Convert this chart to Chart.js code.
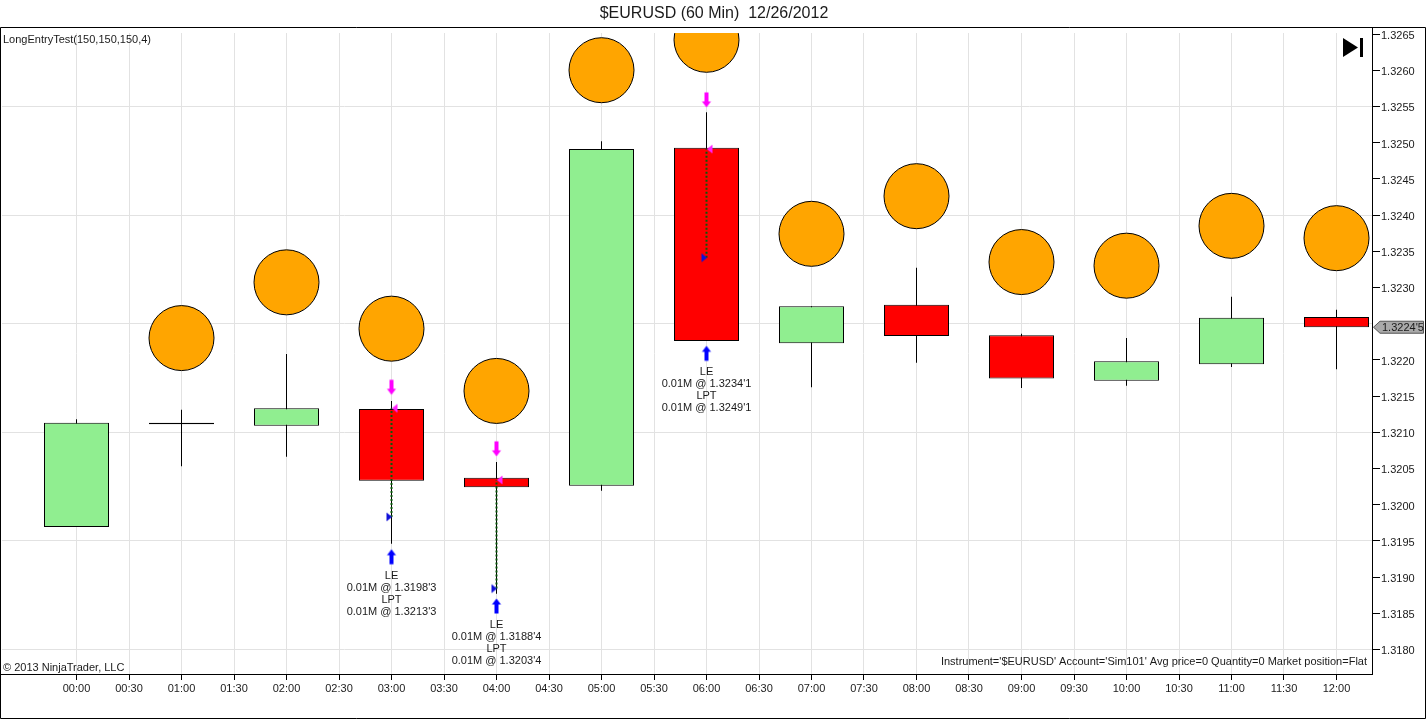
<!DOCTYPE html>
<html>
<head>
<meta charset="utf-8">
<title>$EURUSD (60 Min)</title>
<script src="https://cdn.jsdelivr.net/npm/chart.js@4/dist/chart.umd.min.js"></script>
<style>
html,body{margin:0;padding:0;background:#fff;overflow:hidden;}
canvas{display:block;}
</style>
</head>
<body>
<canvas id="chart" width="1426" height="720"></canvas>
<script>
const timeLabels = ["00:00","00:30","01:00","01:30","02:00","02:30","03:00","03:30","04:00","04:30","05:00","05:30","06:00","06:30","07:00","07:30","08:00","08:30","09:00","09:30","10:00","10:30","11:00","11:30","12:00"];
const priceTicks = [1.3180,1.3185,1.3190,1.3195,1.3200,1.3205,1.3210,1.3215,1.3220,1.3225,1.3230,1.3235,1.3240,1.3245,1.3250,1.3255,1.3260,1.3265];
const gridPrices = [1.3180,1.3195,1.3210,1.3225,1.3240,1.3255];
const coveredTick = 1.3225; // sits under the last price tag

// candles, x is the index into timeLabels
const candleX = [0,2,4,6,8,10,12,14,16,18,20,22,24];
const opens  = [1.31969,1.32113,1.32109,1.32132,1.32037,1.32026,1.32493,1.32223,1.32276,1.32234,1.32171,1.32194,1.32259];
const closes = [1.32113,1.32111,1.32133,1.32033,1.32024,1.32491,1.32226,1.32274,1.32233,1.32174,1.32198,1.32258,1.32245];
const highs  = [1.32118,1.32131,1.32208,1.32143,1.32059,1.32502,1.32542,1.32274,1.32327,1.32236,1.32230,1.32287,1.32269];
const lows   = [1.31969,1.32053,1.32066,1.31946,1.31877,1.32019,1.32226,1.32162,1.32196,1.32161,1.32164,1.32190,1.32187];

// LongEntryTest indicator
const circleValues = [null,1.32230,1.32307,1.32243,1.32157,1.32600,1.32642,1.32374,1.32426,1.32335,1.32330,1.32385,1.32368];

// trades
const tradeX = [6,8,12];
const entryPrices = [1.31983,1.31884,1.32341];
const exitPrices = [1.32133,1.32034,1.32491];
const entryArrows = [1.31928,1.31860,1.32209];
const exitArrows = [1.32162,1.32077,1.32559];
const entryLabels = ["0.01M @ 1.3198'3","0.01M @ 1.3188'4","0.01M @ 1.3234'1"];
const exitLabels = ["0.01M @ 1.3213'3","0.01M @ 1.3203'4","0.01M @ 1.3249'1"];

const lastPrice = 1.32245;
const lastPriceLabel = "1.3224'5";

const FONT = '"Liberation Sans", Arial, sans-serif';
const TEXT = '#1a1a1a';

function makeIcon(draw){
	const c = document.createElement('canvas');
	c.width = 20; c.height = 20;
	draw(c.getContext('2d'));
	return c;
}
function poly(ctx, color, pts){
	ctx.fillStyle = color;
	ctx.beginPath();
	pts.forEach((p,i)=> i ? ctx.lineTo(p[0],p[1]) : ctx.moveTo(p[0],p[1]));
	ctx.closePath();
	ctx.fill();
}
const upArrow = makeIcon(c => poly(c,'#0000ff',[[10,2.5],[14.5,8.5],[12,8.5],[12,17.5],[8,17.5],[8,8.5],[5.5,8.5]]));
const downArrow = makeIcon(c => poly(c,'#ff00ff',[[10,17.5],[14.5,11.5],[12,11.5],[12,2.5],[8,2.5],[8,11.5],[5.5,11.5]]));
const entryMark = makeIcon(c => poly(c,'#1010d8',[[5,5.5],[10.5,10],[5,14.5]]));
const exitMark = makeIcon(c => poly(c,'#ff20ff',[[16,5.5],[10.5,10],[16,14.5]]));

const tradeLines = tradeX.map((x,i) => ({
	type:'line',
	order:3,
	data:[{x:x,y:entryPrices[i]},{x:x,y:exitPrices[i]}],
	borderColor:'#0a5a0a',
	borderWidth:2,
	borderDash:[2,2],
	pointRadius:0
}));

const overlay = {
	id:'overlay',
	afterDraw(chart){
		const ctx = chart.ctx, y = chart.scales.y, x = chart.scales.x;
		ctx.save();
		// frame
		ctx.strokeStyle = '#000';
		ctx.lineWidth = 1;
		ctx.beginPath();
		ctx.moveTo(0.5,27.5); ctx.lineTo(1425.5,27.5); ctx.lineTo(1425.5,718.5); ctx.lineTo(0.5,718.5); ctx.closePath();
		ctx.moveTo(1372.5,27.5); ctx.lineTo(1372.5,674.5);
		ctx.moveTo(0.5,674.5); ctx.lineTo(1372.5,674.5);
		ctx.stroke();

		ctx.fillStyle = TEXT;
		ctx.font = '11px '+FONT;
		ctx.textBaseline = 'middle';
		ctx.textAlign = 'left';
		ctx.fillText('LongEntryTest(150,150,150,4)',3,40);
		ctx.fillText('\u00a9 2013 NinjaTrader, LLC',3,668);
		ctx.textAlign = 'right';
		ctx.fillText("Instrument='$EURUSD' Account='Sim101' Avg price=0 Quantity=0 Market position=Flat",1367,662);

		// trade texts below the entry arrow
		ctx.textAlign = 'center';
		tradeX.forEach((t,i) => {
			const px = x.getPixelForValue(t), py = y.getPixelForValue(entryArrows[i]);
			['LE',entryLabels[i],'LPT',exitLabels[i]].forEach((s,k) => ctx.fillText(s,px,py+19+k*12));
		});

		// skip-to-end button
		ctx.fillStyle = '#000';
		ctx.beginPath();
		ctx.moveTo(1343,38); ctx.lineTo(1358,47.5); ctx.lineTo(1343,57); ctx.closePath();
		ctx.fill();
		ctx.fillRect(1360,38,3,19);

		// last price tag
		const ly = y.getPixelForValue(lastPrice);
		ctx.fillStyle = '#a9a9a9';
		ctx.strokeStyle = '#555';
		ctx.beginPath();
		ctx.moveTo(1373.5,ly); ctx.lineTo(1380,ly-6); ctx.lineTo(1423.5,ly-6); ctx.lineTo(1423.5,ly+6); ctx.lineTo(1380,ly+6); ctx.closePath();
		ctx.fill();
		ctx.stroke();
		ctx.fillStyle = TEXT;
		ctx.textAlign = 'left';
		ctx.fillText(lastPriceLabel,1382,ly+0.5);
		ctx.restore();
	}
};

new Chart(document.getElementById('chart'), {
	type:'bar',
	data:{
		datasets:[
			...tradeLines,
			{
				type:'scatter', order:2,
				data:tradeX.map((x,i)=>({x:x,y:entryPrices[i]})),
				pointStyle:entryMark, pointRadius:10
			},
			{
				type:'scatter', order:2,
				data:tradeX.map((x,i)=>({x:x,y:exitPrices[i]})),
				pointStyle:exitMark, pointRadius:10
			},
			{
				type:'scatter', order:2,
				data:tradeX.map((x,i)=>({x:x,y:entryArrows[i]})),
				pointStyle:upArrow, pointRadius:10
			},
			{
				type:'scatter', order:2,
				data:tradeX.map((x,i)=>({x:x,y:exitArrows[i]})),
				pointStyle:downArrow, pointRadius:10
			},
			{
				type:'scatter', order:4,
				data:candleX.map((x,i)=>({x:x,y:circleValues[i]})),
				pointRadius:32.5,
				pointBackgroundColor:'#ffa500',
				pointBorderColor:'#000',
				pointBorderWidth:1
			},
			{
				label:'body', order:5, grouped:false,
				data:candleX.map((x,i)=>({x:x,y:[opens[i],closes[i]]})),
				backgroundColor:opens.map((o,i)=> closes[i]>=o || i==1 ? '#90ee90' : '#ff0000'),
				borderColor:'#000',
				borderWidth:1,
				borderSkipped:false,
				inflateAmount:0,
				barThickness:65
			},
			{
				label:'wick', order:6, grouped:false,
				data:candleX.map((x,i)=>({x:x,y:[lows[i],highs[i]]})),
				backgroundColor:'#000',
				borderWidth:0,
				inflateAmount:0,
				barThickness:1
			}
		]
	},
	options:{
		responsive:false,
		animation:false,
		devicePixelRatio:1,
		layout:{autoPadding:false,padding:{left:2,right:0,top:0,bottom:0}},
		plugins:{
			legend:{display:false},
			tooltip:{enabled:false},
			title:{
				display:true,
				text:'$EURUSD (60 Min)  12/26/2012',
				color:TEXT,
				font:{family:FONT,size:16,weight:'normal'},
				padding:{top:4,bottom:9.8}
			}
		},
		scales:{
			x:{
				type:'linear',
				offset:false,
				min:-74.5/52.5,
				max:1295.5/52.5,
				afterBuildTicks:s => { s.ticks = timeLabels.map((_l,i)=>({value:i})); },
				afterFit:s => { s.height = 46; s.paddingLeft = 0; s.paddingRight = 0; },
				grid:{offset:false,color:'#e2e2e2',tickColor:'#000',tickLength:6},
				border:{color:'#000'},
				ticks:{
					autoSkip:false,maxRotation:0,color:TEXT,padding:2,
					font:{family:FONT,size:11},
					callback:v => timeLabels[v]
				}
			},
			y:{
				position:'right',
				min:1.3265+1/72400-641/72400,
				max:1.3265+1/72400,
				afterBuildTicks:s => { s.ticks = priceTicks.map(v=>({value:v})); },
				afterFit:s => { s.width = 54; s.paddingTop = 0; s.paddingBottom = 0; },
				grid:{
					color:c => gridPrices.includes(c.tick.value) ? '#e2e2e2' : 'transparent',
					tickColor:c => c.tick.value === coveredTick ? 'transparent' : '#000',
					tickLength:8
				},
				border:{color:'#000'},
				ticks:{
					color:TEXT,padding:1,labelOffset:2,
					font:{family:FONT,size:11},
					callback:v => v === coveredTick ? '' : v.toFixed(4)
				}
			}
		}
	},
	plugins:[overlay]
});
</script>
</body>
</html>
